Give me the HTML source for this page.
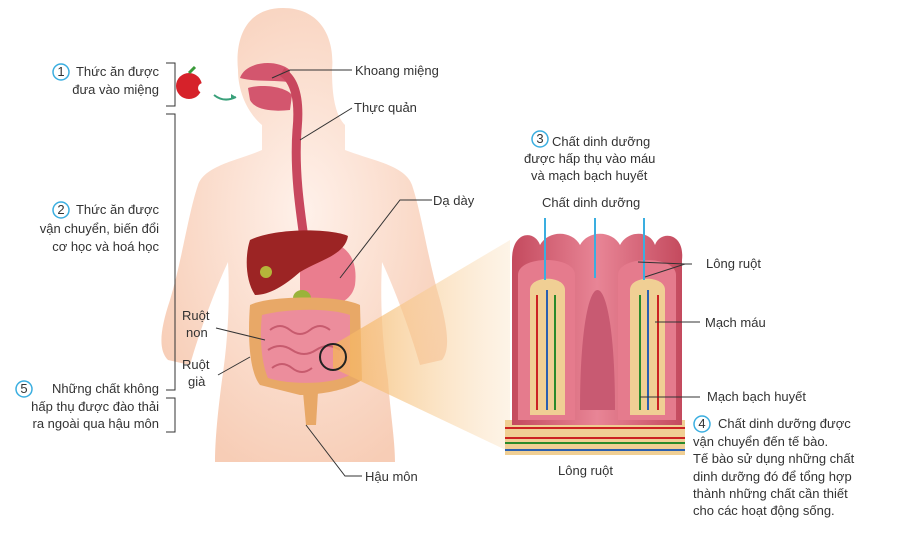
<!DOCTYPE html>
<html><head><meta charset="utf-8"><style>
body{margin:0;background:#fff;}
svg{display:block;font-family:"Liberation Sans",sans-serif;}
text{font-size:13px;fill:#333;}
</style></head><body>
<svg width="900" height="539" viewBox="0 0 900 539" xmlns="http://www.w3.org/2000/svg">
<defs>
<radialGradient id="sk" cx="0.5" cy="0.45" r="0.6"><stop offset="0" stop-color="#fff1ea"/><stop offset="1" stop-color="#f7cdb6"/></radialGradient>
<linearGradient id="cone" x1="0" x2="1"><stop offset="0" stop-color="#f4b25c" stop-opacity="0.8"/><stop offset="1" stop-color="#fbe3c4" stop-opacity="0.4"/></linearGradient>
<linearGradient id="vil" x1="0" x2="1"><stop offset="0" stop-color="#c44a5e"/><stop offset="0.5" stop-color="#e88596"/><stop offset="1" stop-color="#c44a5e"/></linearGradient>
</defs>
<!-- body -->
<path d="M283 8 C245 8 235 40 238 70 C238 95 250 115 262 125 L262 150 C240 160 205 165 198 185 C188 215 182 260 170 300 C160 330 158 350 168 360 L190 365 C200 330 215 290 228 262 C230 300 228 340 222 380 C218 410 215 440 215 462 L395 462 C395 440 390 410 388 380 C382 340 380 300 382 262 C395 290 410 330 420 365 L442 360 C450 350 448 330 440 300 C428 260 422 215 412 185 C405 165 370 160 345 150 L345 125 C335 115 332 95 332 70 C335 40 322 8 283 8 Z" fill="url(#sk)"/>
<!-- mouth -->
<path d="M240 78 C245 62 275 58 290 70 L288 82 C270 80 255 82 240 78Z" fill="#d3566e"/>
<path d="M248 88 C260 84 285 86 292 95 L290 110 C272 112 255 110 250 100Z" fill="#d3566e"/>
<!-- esophagus -->
<path d="M282 72 C295 80 300 100 297 130 C294 170 300 210 305 245" stroke="#c8475e" stroke-width="9" fill="none"/>
<!-- stomach -->
<path d="M300 245 C330 235 360 245 355 285 C350 310 315 310 300 295 Z" fill="#ea7d8e"/>
<!-- liver -->
<path d="M250 240 C275 228 330 228 348 236 C345 255 320 260 300 272 C285 285 270 295 255 295 C245 280 245 255 250 240Z" fill="#9c2424"/>
<circle cx="266" cy="272" r="6" fill="#b5b53a"/>
<ellipse cx="302" cy="298" rx="9" ry="8" fill="#9ab33a"/>
<!-- large intestine -->
<path d="M250 305 C270 295 340 295 360 305 L362 380 C340 395 300 395 300 395 L260 385 C248 370 248 330 250 305Z" fill="#e8a867"/>
<path d="M262 315 C290 308 330 308 350 315 L350 375 C330 385 290 385 268 378 C260 360 260 330 262 315Z" fill="#ec8d9c"/>
<path d="M270 330 q10 -8 20 0 t20 0 t20 0 M268 350 q12 -8 24 0 t24 0 t24 0 M272 368 q10 -8 20 0 t20 0" stroke="#c75b6e" stroke-width="2" fill="none"/>
<path d="M303 392 L318 392 L316 425 L306 425Z" fill="#e8a867"/>
<!-- zoom cone -->
<path d="M333 345 L510 240 L510 452 L333 368Z" fill="url(#cone)"/>
<circle cx="333" cy="357" r="13" fill="none" stroke="#222" stroke-width="2"/>
<!-- apple -->
<circle cx="189" cy="86" r="13" fill="#d6222a"/><circle cx="203" cy="88" r="5" fill="#fff"/><path d="M189 73 l6 -6" stroke="#3a9a3a" stroke-width="3"/>
<path d="M214 95 q10 8 22 2" stroke="#39a07a" stroke-width="2" fill="none"/><path d="M236 97 l-5 -3 l0 5z" fill="#39a07a"/>
<!-- villi panel -->
<rect x="505" y="420" width="180" height="35" fill="#f0cf94"/>
<path d="M505 428 H685 M505 438 H685" stroke="#c22" stroke-width="2"/>
<path d="M505 443 H685" stroke="#2a8a2a" stroke-width="2"/><path d="M505 450 H685" stroke="#2a5fb0" stroke-width="2"/>
<path d="M512 425 L512 260 C512 230 535 230 540 245 C548 230 572 230 580 245 C588 230 612 230 620 245 C628 230 650 230 655 245 C660 230 685 232 682 260 L682 425Z" fill="url(#vil)"/>
<path d="M518 420 L518 275 C518 255 575 255 575 275 L575 420Z" fill="#e57b8d"/>
<path d="M618 420 L618 275 C618 255 676 255 676 275 L676 420Z" fill="#e57b8d"/>
<path d="M530 415 L530 290 C530 275 565 275 565 290 L565 415Z" fill="#f0cf94"/>
<path d="M630 415 L630 290 C630 275 665 275 665 290 L665 415Z" fill="#f0cf94"/>
<path d="M537 410 V295 M658 410 V295" stroke="#c22" stroke-width="2"/>
<path d="M547 410 V290 M648 410 V290" stroke="#2a5fb0" stroke-width="2"/>
<path d="M555 410 V295 M640 410 V295" stroke="#2a8a2a" stroke-width="2"/>
<path d="M580 410 C580 250 615 250 615 410" fill="#c85a72"/>
<path d="M545 218 V280 M595 218 V278 M644 218 V280" stroke="#3aaee0" stroke-width="2"/>
<!-- connector lines -->
<g stroke="#333" stroke-width="1" fill="none">
<path d="M272 78 L290 70 L352 70"/><path d="M300 140 L352 108"/><path d="M340 278 L400 200 L432 200"/>
<path d="M216 328 L265 340"/><path d="M218 375 L250 357"/><path d="M306 425 L345 476 L362 476"/>
<path d="M638 262 L685 264 L645 277 M685 264 L692 264"/><path d="M655 322 L700 322"/><path d="M640 397 L700 397"/>
<path d="M166 63 H175 V106 H166 M166 114 H175 V390 H166 M166 398 H175 V432 H166"/>
</g>
<g fill="none" stroke="#3aaee0" stroke-width="1.5"><circle cx="61" cy="72" r="8"/><circle cx="61" cy="210" r="8"/><circle cx="24" cy="389" r="8"/><circle cx="540" cy="139" r="8"/><circle cx="702" cy="424" r="8"/></g>
<g text-anchor="middle" style="font-size:11px"><text x="61" y="76">1</text><text x="61" y="214">2</text><text x="24" y="393">5</text><text x="540" y="143">3</text><text x="702" y="428">4</text></g>
<g text-anchor="end">
<text x="159" y="76">Thức ăn được</text><text x="159" y="94">đưa vào miệng</text>
<text x="159" y="214">Thức ăn được</text><text x="159" y="233">vận chuyển, biến đổi</text><text x="159" y="251">cơ học và hoá học</text>
<text x="159" y="393">Những chất không</text><text x="159" y="411">hấp thụ được đào thải</text><text x="159" y="428">ra ngoài qua hậu môn</text>
</g>
<text x="355" y="75">Khoang miệng</text><text x="354" y="112">Thực quản</text><text x="433" y="205">Dạ dày</text>
<text x="182" y="320">Ruột</text><text x="186" y="337">non</text><text x="182" y="369">Ruột</text><text x="188" y="386">già</text>
<text x="365" y="481">Hậu môn</text>
<text x="552" y="146">Chất dinh dưỡng</text><text x="524" y="163">được hấp thụ vào máu</text><text x="531" y="180">và mạch bạch huyết</text>
<text x="542" y="207">Chất dinh dưỡng</text>
<text x="706" y="268">Lông ruột</text><text x="705" y="327">Mạch máu</text><text x="707" y="401">Mạch bạch huyết</text>
<text x="558" y="475">Lông ruột</text>
<text x="718" y="428">Chất dinh dưỡng được</text><text x="693" y="446">vận chuyển đến tế bào.</text><text x="693" y="463">Tế bào sử dụng những chất</text><text x="693" y="481">dinh dưỡng đó để tổng hợp</text><text x="693" y="498">thành những chất cần thiết</text><text x="693" y="515">cho các hoạt động sống.</text>
</svg>
</body></html>
